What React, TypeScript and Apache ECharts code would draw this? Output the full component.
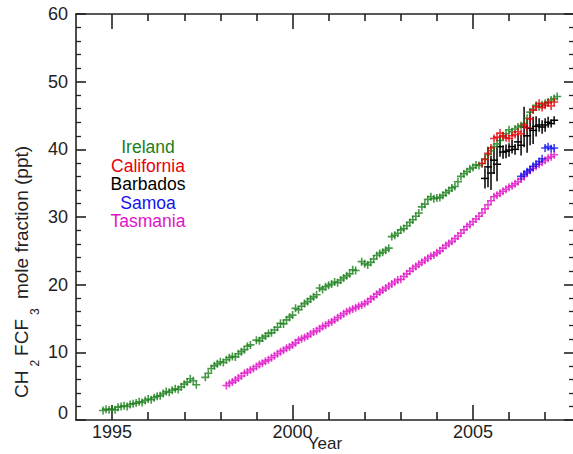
import React, { useEffect, useRef } from "react";
import * as echarts from "echarts";

// ---- data ----
// Monthly values; null = no measurement (gap)
const irelandStart = 1994.75; // Oct 1994
const irelandValues: (number | null)[] = [
  1.4, 1.6, 1.5,
  1.6, 1.5, 1.9, 2.0, 2.1, 2.0, 2.3, 2.4, 2.5, 2.7, 2.6, 2.9,
  3.1, 3.0, 3.3, 3.5, 3.6, 3.9, 4.2, 4.1, 4.4, 4.6, 4.5, 4.9,
  5.3, 5.6, 6.1, 5.8, 5.2, null, null, 6.3, 6.9, 7.6, 8.0, 8.3,
  8.6, 8.5, 8.9, 9.2, 9.4, 9.3, 9.8, 10.1, 10.4, 10.9, 11.1, null,
  11.8, 11.7, 12.1, 12.4, 12.8, 12.9, 13.3, 13.7, 14.3, 14.2, 14.8, 15.2,
  15.5, 16.5, 16.3, 16.8, 17.2, 17.5, 17.9, 18.2, 18.5, 19.5, 19.3, 19.7,
  19.9, 20.1, 20.4, 20.3, 20.7, 21.0, 21.3, 21.6, 22.2, 22.1, null, 23.4,
  23.1, 22.9, 23.3, 23.8, 24.3, 24.6, 24.8, 25.1, 25.4, 27.1, 27.3, 27.6,
  28.1, 28.3, 28.7, 29.2, 29.6, 30.1, 30.6, 31.5, 31.9, 32.6, 33.0, 32.7,
  32.8, 32.9, 33.2, 33.6, 33.9, 34.3, 34.5, 35.2, 36.0, 36.4, 36.7, 37.1,
  37.3, 37.7, 37.6, 37.9, 38.6, 39.2, 39.8, 40.4, 40.8, 41.3, 41.9, 42.3,
  42.9, 42.6, 43.0, 43.3, 43.5, 43.8, 44.6, 45.5, 45.9, 46.5, 46.3, 46.6,
  46.8, 47.0, 47.3, 47.5, 47.8,
];

const tasmaniaStart = 1998 + 2 / 12; // Mar 1998
const tasmaniaValues: (number | null)[] = [
  5.1, 5.4, 5.6, 5.9, 6.2, 6.5, 6.9, 7.1, 7.4, 7.6,
  7.9, 8.2, 8.4, 8.7, 8.9, 9.2, 9.5, 9.8, 10.1, 10.3, 10.6, 10.8,
  11.1, 11.4, 11.8, 12.0, 12.2, 12.4, 12.7, 13.0, 13.2, 13.5, 13.8, 14.0,
  14.3, 14.5, 14.8, 15.1, 15.4, 15.7, 16.0, 16.2, 16.4, 16.6, 16.8, 17.0,
  17.2, 17.5, 17.9, 18.2, 18.6, 18.9, 19.2, 19.5, 19.8, 20.1, 20.4, 20.7,
  20.8, 21.2, 21.6, 22.0, 22.4, 22.7, 23.0, 23.3, 23.6, 23.9, 24.2, 24.4,
  24.7, 25.0, 25.4, 25.8, 26.1, 26.4, 26.8, 27.2, 27.6, 28.1, 28.6, 28.9,
  29.3, 29.7, 30.1, 30.6, 31.2, 31.8, 32.4, 33.0, 33.2, 33.5, 33.8, 34.1,
  34.4, 34.6, 34.9, 35.2, 35.6, 36.0, 36.5, 36.9, 37.2, 37.5, 37.8, 38.1,
  38.4, 38.7, 38.9, 39.2,
];

const californiaStart = 2005 + 3 / 12; // Apr 2005
const californiaValues: (number | null)[] = [
  37.9, 38.5, 39.4, 40.2, 41.6, 41.8, 42.4, 42.0, 41.7,
  41.6, 42.0, 42.2, 42.6, 42.3, 43.6, 43.2, 44.5, 45.8, 46.3, 46.8, 46.2,
  46.5, 46.9, 46.4, 47.0,
];

const barbadosStart = 2005 + 4 / 12; // May 2005
const barbadosValues: number[] = [
  35.7, 37.4, 36.5, 38.4, 37.8, 40.4, 39.6, 39.7,
  39.9, 40.4, 40.0, 41.1, 40.6, 43.3, 42.0, 43.1, 42.8, 43.4, 43.6, 43.3,
  43.6, 44.0, 43.8, 44.3,
];
const barbadosErrors: number[] = [
  1.5, 3.0, 2.5, 2.0, 2.5, 1.5, 1.0, 1.0,
  1.0, 1.0, 0.8, 1.0, 1.5, 3.0, 2.5, 2.5, 2.0, 1.5, 1.0, 1.0,
  1.0, 0.8, 0.5, 0.5,
];

const samoaStart = 2006 + 4 / 12; // May 2006
const samoaValues: (number | null)[] = [
  36.0, 36.3, 36.7, 37.0, 37.5, 37.8, 38.2, 38.6,
  40.2, 40.4, 40.1, 40.2,
];

const siteNames = ["Ireland", "California", "Barbados", "Samoa", "Tasmania"];
const siteColors = ["#1a801a", "#e8000b", "#000000", "#1414f0", "#e014c8"];

const xMin = 1994;
const xMax = 2007.8;
const xMajorTicks = ["1995.0", "2000.0", "2005.0"];
const xMinorTicks = [
  "1996.0", "1997.0", "1998.0", "1999.0", "2001.0",
  "2002.0", "2003.0", "2004.0", "2006.0", "2007.0",
];
const yMin = 0;
const yMax = 60;
const yInterval = 10;

// ---- helpers ----
const monthly = (start: number, values: (number | null)[]) =>
  values
    .map((v, i) => [start + i / 12, v] as [number, number | null])
    .filter((p) => p[1] != null);

// tick-position categories spanning the x range in 0.1-year steps
const tickCats: string[] = [];
for (let k = Math.round(xMin * 10); k <= Math.round(xMax * 10); k++) {
  tickCats.push((k / 10).toFixed(1));
}

const PLUS = "path://M4,0H6V4H10V6H6V10H4V6H0V4H4Z";
const FONT = "'Liberation Sans', Arial, Helvetica, sans-serif";
const AX = "#222222";
const TICK_FONT = 18;

export default function App() {
  const ref = useRef<HTMLDivElement>(null);

  useEffect(() => {
    if (!ref.current) return;
    const chart = echarts.init(ref.current, null, { renderer: "svg" });

    const axisLineStyle = { color: AX, width: 1.6 };
    const isMajor = (_i: number, v: string) => xMajorTicks.indexOf(v) >= 0;
    const isMinor = (_i: number, v: string) => xMinorTicks.indexOf(v) >= 0;

    const tickAxis = (pos: "top" | "bottom", major: boolean, withLine: boolean, label: boolean) => ({
      type: "category",
      data: tickCats,
      boundaryGap: false,
      position: pos,
      silent: true,
      splitLine: { show: false },
      axisLine: { show: withLine, lineStyle: axisLineStyle },
      axisTick: {
        show: true,
        inside: true,
        length: major ? 15 : pos === "top" ? 7 : 8,
        interval: major ? isMajor : isMinor,
        lineStyle: axisLineStyle,
      },
      axisLabel: label
        ? {
            show: true,
            interval: isMajor,
            formatter: (v: string) => String(Math.round(Number(v))),
            color: AX,
            fontSize: TICK_FONT,
            fontFamily: FONT,
            margin: 3,
          }
        : { show: false },
    });

    const yAxisBase = {
      type: "value" as const,
      min: yMin,
      max: yMax,
      interval: yInterval,
      splitLine: { show: false },
      axisLine: { show: true, lineStyle: axisLineStyle },
      axisTick: { show: true, inside: true, length: 10, lineStyle: axisLineStyle },
      minorTick: {
        show: true,
        splitNumber: 5,
        length: 5,
        lineStyle: { color: AX, width: 1.3 },
      },
    };

    const scatter = (name: string, color: string, data: any[]) => ({
      type: "scatter",
      name,
      data,
      symbol: PLUS,
      symbolSize: 8,
      itemStyle: { color },
      emphasis: { disabled: true },
      silent: true,
    });

    const barbadosData = barbadosValues.map((v, i) => [
      barbadosStart + i / 12,
      v,
      barbadosErrors[i],
    ]);

    const option: any = {
      animation: false,
      backgroundColor: "#ffffff",
      textStyle: { fontFamily: FONT },
      grid: {
        left: 76,
        top: 14,
        right: -1,
        bottom: 34,
        containLabel: false,
        outerBoundsMode: "none",
      },
      xAxis: [
        {
          // data axis (hidden)
          type: "value",
          min: xMin,
          max: xMax,
          show: false,
          splitLine: { show: false },
        },
        {
          ...tickAxis("bottom", true, true, true),
          name: "Year",
          nameLocation: "middle",
          nameGap: 15,
          nameMoveOverlap: false,
          nameTextStyle: { color: AX, fontSize: 17, fontFamily: FONT },
        },
        tickAxis("bottom", false, false, false),
        tickAxis("top", true, true, false),
        tickAxis("top", false, false, false),
      ],
      yAxis: [
        {
          ...yAxisBase,
          position: "left",
          axisLabel: {
            show: true,
            color: AX,
            fontSize: TICK_FONT,
            fontFamily: FONT,
            margin: 8,
            formatter: (v: number) => (v === 0 ? "{z|0}" : String(v)),
            rich: {
              z: { fontSize: TICK_FONT, fontFamily: FONT, color: AX, padding: [0, 0, 14, 0] },
            },
          },
          name: "{a|CH}{s|2}{a|FCF}{s|3}{a| mole fraction (ppt)}",
          nameLocation: "middle",
          nameRotate: 90,
          nameGap: 35,
          nameMoveOverlap: false,
          nameTextStyle: {
            color: AX,
            fontSize: 19,
            fontFamily: FONT,
            padding: [0, 110, 0, 0],
            rich: {
              a: { fontSize: 19, fontFamily: FONT, color: AX },
              s: { fontSize: 12, fontFamily: FONT, color: AX, padding: [28, 4, 0, 4] },
            },
          },
        },
        {
          ...yAxisBase,
          position: "right",
          axisLabel: { show: false },
        },
      ],
      graphic: siteNames.map((n, i) => ({
        type: "text",
        x: 148,
        y: 147 + i * 18.5,
        silent: true,
        style: {
          text: n,
          fill: siteColors[i],
          fontSize: 17.5,
          fontFamily: FONT,
          align: "center",
          verticalAlign: "middle",
        },
      })),
      series: [
        scatter(siteNames[0], siteColors[0], monthly(irelandStart, irelandValues)),
        scatter(siteNames[4], siteColors[4], monthly(tasmaniaStart, tasmaniaValues)),
        scatter(siteNames[1], siteColors[1], monthly(californiaStart, californiaValues)),
        scatter(siteNames[3], siteColors[3], monthly(samoaStart, samoaValues)),
        {
          type: "custom",
          name: siteNames[2],
          data: barbadosData,
          encode: { x: 0, y: 1 },
          silent: true,
          renderItem: (_p: any, api: any) => {
            const x = api.value(0);
            const y = api.value(1);
            const e = api.value(2);
            const c = api.coord([x, y]);
            const lo = api.coord([x, y - e]);
            const hi = api.coord([x, y + e]);
            const h = 4;
            const top = Math.min(hi[1], c[1] - h);
            const bot = Math.max(lo[1], c[1] + h);
            const st = { stroke: siteColors[2], lineWidth: 1.5 };
            return {
              type: "group",
              children: [
                { type: "line", shape: { x1: c[0], y1: top, x2: c[0], y2: bot }, style: st },
                { type: "line", shape: { x1: c[0] - h, y1: c[1], x2: c[0] + h, y2: c[1] }, style: st },
              ],
            };
          },
        },
      ],
    };

    chart.setOption(option);
    return () => chart.dispose();
  }, []);

  return (
    <div
      ref={ref}
      style={{ position: "absolute", left: 0, top: 0, width: 573, height: 454 }}
    />
  );
}
